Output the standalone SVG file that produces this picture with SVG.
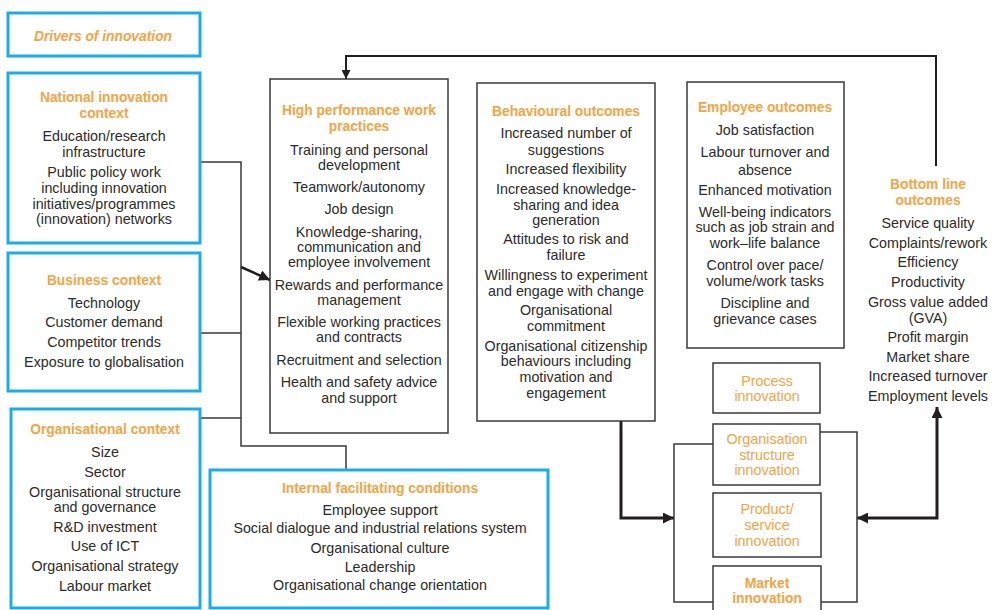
<svg xmlns="http://www.w3.org/2000/svg" width="996" height="610" viewBox="0 0 996 610">
<defs>
<style>
.blue{fill:#fff;stroke:#1bade8;stroke-width:3}
.box{fill:#fff;stroke:#3a3a3a;stroke-width:1.5}
.t{font-family:"Liberation Sans",Arial,sans-serif;font-size:14.3px;fill:#2b2b2b;text-anchor:middle}
.h{font-family:"Liberation Sans",Arial,sans-serif;font-size:13.8px;font-weight:bold;fill:#f6a443;text-anchor:middle}
.o{font-family:"Liberation Sans",Arial,sans-serif;font-size:14.3px;fill:#f6a443;text-anchor:middle}
.ln{fill:none;stroke:#3a3a3a;stroke-width:1.5}
.thick{fill:none;stroke:#231f20;stroke-width:3}
</style>
<marker id="ah" viewBox="0 0 10 10" refX="10" refY="5" markerWidth="11" markerHeight="11" markerUnits="userSpaceOnUse" orient="auto-start-reverse"><path d="M0,0 L10,5 L0,10 z" fill="#231f20"/></marker>
<marker id="ahs" viewBox="0 0 10 10" refX="10" refY="5" markerWidth="9" markerHeight="9" markerUnits="userSpaceOnUse" orient="auto"><path d="M0,0 L10,5 L0,10 z" fill="#231f20"/></marker>
</defs>
<rect width="996" height="610" fill="#fff"/>

<g id="connectors">
<path class="ln" d="M200 162 H241 V446 H346 V470"/>
<path class="ln" d="M200 333 H241"/>
<path class="ln" d="M200 418 H241"/>
<path class="thick" d="M241 267 L270 280" marker-end="url(#ah)" style="stroke-width:2.5"/>
<path class="ln" d="M936 166 V56 H346 V79" marker-end="url(#ahs)" style="stroke:#231f20;stroke-width:2"/>
<path class="thick" d="M621 421 V518 H674" marker-end="url(#ah)"/>
<path class="thick" d="M857 518 H937 V407" marker-start="url(#ah)" marker-end="url(#ah)"/>
<path class="ln" d="M713 444 H674 V602 H713"/>
<path class="ln" d="M820 432 H857 V602 H821"/>
</g>

<g id="drivers">
<rect class="blue" x="8" y="13" width="192" height="43"/>
<text class="h" x="103" y="41" style="font-style:italic">Drivers of innovation</text>
</g>

<g id="national">
<rect class="blue" x="8" y="73" width="192" height="170"/>
<text class="h" x="104" y="102">National innovation</text>
<text class="h" x="104" y="118">context</text>
<text class="t" x="104" y="141">Education/research</text>
<text class="t" x="104" y="157">infrastructure</text>
<text class="t" x="104" y="177">Public policy work</text>
<text class="t" x="104" y="193">including innovation</text>
<text class="t" x="104" y="209">initiatives/programmes</text>
<text class="t" x="104" y="224">(innovation) networks</text>
</g>

<g id="business">
<rect class="blue" x="8" y="253" width="192" height="138"/>
<text class="h" x="104" y="285">Business context</text>
<text class="t" x="104" y="308">Technology</text>
<text class="t" x="104" y="327">Customer demand</text>
<text class="t" x="104" y="347">Competitor trends</text>
<text class="t" x="104" y="367">Exposure to globalisation</text>
</g>

<g id="organisational">
<rect class="blue" x="11" y="409" width="189" height="199"/>
<text class="h" x="105" y="434">Organisational context</text>
<text class="t" x="105" y="457">Size</text>
<text class="t" x="105" y="477">Sector</text>
<text class="t" x="105" y="497">Organisational structure</text>
<text class="t" x="105" y="512">and governance</text>
<text class="t" x="105" y="532">R&amp;D investment</text>
<text class="t" x="105" y="551">Use of ICT</text>
<text class="t" x="105" y="571">Organisational strategy</text>
<text class="t" x="105" y="591">Labour market</text>
</g>

<g id="hpwp">
<rect class="box" x="270" y="79" width="178" height="354"/>
<text class="h" x="359" y="115">High performance work</text>
<text class="h" x="359" y="131">practices</text>
<text class="t" x="359" y="155">Training and personal</text>
<text class="t" x="359" y="170">development</text>
<text class="t" x="359" y="192">Teamwork/autonomy</text>
<text class="t" x="359" y="214">Job design</text>
<text class="t" x="359" y="237">Knowledge-sharing,</text>
<text class="t" x="359" y="252">communication and</text>
<text class="t" x="359" y="267">employee involvement</text>
<text class="t" x="359" y="290">Rewards and performance</text>
<text class="t" x="359" y="305">management</text>
<text class="t" x="359" y="327">Flexible working practices</text>
<text class="t" x="359" y="342">and contracts</text>
<text class="t" x="359" y="365">Recruitment and selection</text>
<text class="t" x="359" y="387">Health and safety advice</text>
<text class="t" x="359" y="403">and support</text>
</g>

<g id="behavioural">
<rect class="box" x="477" y="83" width="178" height="338"/>
<text class="h" x="566" y="116">Behavioural outcomes</text>
<text class="t" x="566" y="138">Increased number of</text>
<text class="t" x="566" y="155">suggestions</text>
<text class="t" x="566" y="174">Increased flexibility</text>
<text class="t" x="566" y="194">Increased knowledge-</text>
<text class="t" x="566" y="210">sharing and idea</text>
<text class="t" x="566" y="225">generation</text>
<text class="t" x="566" y="244">Attitudes to risk and</text>
<text class="t" x="566" y="260">failure</text>
<text class="t" x="566" y="280">Willingness to experiment</text>
<text class="t" x="566" y="296">and engage with change</text>
<text class="t" x="566" y="315">Organisational</text>
<text class="t" x="566" y="331">commitment</text>
<text class="t" x="566" y="351">Organisational citizenship</text>
<text class="t" x="566" y="366">behaviours including</text>
<text class="t" x="566" y="382">motivation and</text>
<text class="t" x="566" y="398">engagement</text>
</g>

<g id="employee">
<rect class="box" x="687" y="82" width="157" height="266"/>
<text class="h" x="765" y="112">Employee outcomes</text>
<text class="t" x="765" y="135">Job satisfaction</text>
<text class="t" x="765" y="157">Labour turnover and</text>
<text class="t" x="765" y="175">absence</text>
<text class="t" x="765" y="195">Enhanced motivation</text>
<text class="t" x="765" y="217">Well-being indicators</text>
<text class="t" x="765" y="232">such as job strain and</text>
<text class="t" x="765" y="248">work–life balance</text>
<text class="t" x="765" y="270">Control over pace/</text>
<text class="t" x="765" y="286">volume/work tasks</text>
<text class="t" x="765" y="308">Discipline and</text>
<text class="t" x="765" y="324">grievance cases</text>
</g>

<g id="bottomline">
<text class="h" x="928" y="189">Bottom line</text>
<text class="h" x="928" y="205">outcomes</text>
<text class="t" x="928" y="228">Service quality</text>
<text class="t" x="928" y="248">Complaints/rework</text>
<text class="t" x="928" y="267">Efficiency</text>
<text class="t" x="928" y="287">Productivity</text>
<text class="t" x="928" y="307">Gross value added</text>
<text class="t" x="928" y="323">(GVA)</text>
<text class="t" x="928" y="342">Profit margin</text>
<text class="t" x="928" y="362">Market share</text>
<text class="t" x="928" y="381">Increased turnover</text>
<text class="t" x="928" y="401">Employment levels</text>
</g>

<g id="internal">
<rect class="blue" x="210" y="470" width="338" height="138"/>
<text class="h" x="380" y="493">Internal facilitating conditions</text>
<text class="t" x="380" y="515">Employee support</text>
<text class="t" x="380" y="533">Social dialogue and industrial relations system</text>
<text class="t" x="380" y="553">Organisational culture</text>
<text class="t" x="380" y="572">Leadership</text>
<text class="t" x="380" y="590">Organisational change orientation</text>
</g>

<g id="process">
<rect class="box" x="713" y="363" width="107" height="50"/>
<text class="o" x="767" y="386">Process</text>
<text class="o" x="767" y="401">innovation</text>
</g>

<g id="orgstructure">
<rect class="box" x="713" y="424" width="107" height="61"/>
<text class="o" x="767" y="444">Organisation</text>
<text class="o" x="767" y="460">structure</text>
<text class="o" x="767" y="475">innovation</text>
</g>

<g id="product">
<rect class="box" x="713" y="493" width="108" height="64"/>
<text class="o" x="767" y="514">Product/</text>
<text class="o" x="767" y="530">service</text>
<text class="o" x="767" y="546">innovation</text>
</g>

<g id="market">
<rect class="box" x="713" y="566" width="108" height="60"/>
<text class="h" x="767" y="588">Market</text>
<text class="h" x="767" y="603">innovation</text>
</g>
</svg>
